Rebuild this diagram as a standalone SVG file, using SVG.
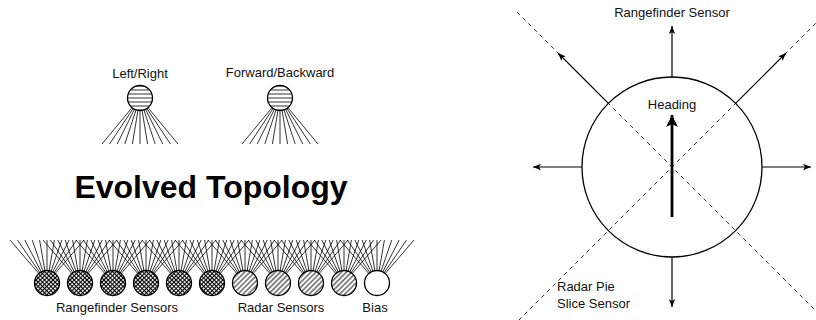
<svg xmlns="http://www.w3.org/2000/svg" width="816" height="320" viewBox="0 0 816 320">
<style>
.lbl{font-family:"Liberation Sans",Arial,sans-serif;font-size:13px;fill:#111}
.title{font-family:"Liberation Sans",Arial,sans-serif;font-size:32px;font-weight:bold;fill:#000}
.node{stroke:#000;stroke-width:1.3}
.fan{fill:none;stroke:#000;stroke-width:0.8}
.arr{stroke:#000;stroke-width:1.2;fill:none}
.dash{stroke:#000;stroke-width:0.8;stroke-dasharray:4 4;fill:none}
</style>
<defs>
<pattern id="hlines" patternUnits="userSpaceOnUse" width="8" height="4">
<rect width="8" height="4" fill="#fff"/>
<line x1="0" y1="2" x2="8" y2="2" stroke="#000" stroke-width="0.8"/>
</pattern>
<pattern id="xhatch" patternUnits="userSpaceOnUse" width="3" height="3" patternTransform="rotate(45)">
<rect width="3" height="3" fill="#fff"/>
<path d="M0,1.5 H3 M1.5,0 V3" stroke="#000" stroke-width="1.15"/>
</pattern>
<pattern id="nelines" patternUnits="userSpaceOnUse" width="3.6" height="3.6" patternTransform="rotate(-45)">
<rect width="3.6" height="3.6" fill="#fff"/>
<line x1="0" y1="1.8" x2="3.6" y2="1.8" stroke="#000" stroke-width="0.9"/>
</pattern>
<marker id="ah" markerUnits="userSpaceOnUse" markerWidth="8" markerHeight="7" viewBox="0 0 10 8" refX="10" refY="4" orient="auto">
<path d="M0,0 L10,4 L0,8 L2.5,4 z" fill="#000"/>
</marker>
<marker id="ahBig" markerUnits="userSpaceOnUse" markerWidth="12" markerHeight="12" viewBox="0 0 10 10" refX="10" refY="5" orient="auto">
<path d="M0,0 L10,5 L0,10 L2.5,5 z" fill="#000"/>
</marker>
<path id="fanDown" class="fan" d="M0,0 l-38,46 M0,0 l-30.4,46 M0,0 l-22.8,46 M0,0 l-15.2,46 M0,0 l-7.6,46 M0,0 l0,46 M0,0 l7.6,46 M0,0 l15.2,46 M0,0 l22.8,46 M0,0 l30.4,46 M0,0 l38,46"/>
<path id="fanUp" class="fan" d="M0,283 l-37,-43 M0,283 l-29.6,-43 M0,283 l-22.2,-43 M0,283 l-14.8,-43 M0,283 l-7.4,-43 M0,283 l0,-43 M0,283 l7.4,-43 M0,283 l14.8,-43 M0,283 l22.2,-43 M0,283 l29.6,-43 M0,283 l37,-43"/>
</defs>
<rect width="816" height="320" fill="#fff"/>

<g id="connectors">
<use href="#fanDown" x="140" y="98"/>
<use href="#fanDown" x="280" y="98"/>
<use href="#fanUp" x="47"/>
<use href="#fanUp" x="80"/>
<use href="#fanUp" x="113"/>
<use href="#fanUp" x="146"/>
<use href="#fanUp" x="179"/>
<use href="#fanUp" x="212"/>
<use href="#fanUp" x="245"/>
<use href="#fanUp" x="278"/>
<use href="#fanUp" x="311"/>
<use href="#fanUp" x="344"/>
<use href="#fanUp" x="377"/>
</g>

<g id="out-left-right">
<circle class="node" cx="140" cy="98" r="12.5" fill="url(#hlines)"/>
<text class="lbl" x="140" y="78" text-anchor="middle">Left/Right</text>
</g>
<g id="out-forward-backward">
<circle class="node" cx="280" cy="98" r="12.5" fill="url(#hlines)"/>
<text class="lbl" x="280" y="77" text-anchor="middle">Forward/Backward</text>
</g>

<text class="title" x="211" y="198" text-anchor="middle">Evolved Topology</text>

<g id="rangefinder-sensors">
<circle class="node" cx="47" cy="283" r="12.5" fill="url(#xhatch)"/>
<circle class="node" cx="80" cy="283" r="12.5" fill="url(#xhatch)"/>
<circle class="node" cx="113" cy="283" r="12.5" fill="url(#xhatch)"/>
<circle class="node" cx="146" cy="283" r="12.5" fill="url(#xhatch)"/>
<circle class="node" cx="179" cy="283" r="12.5" fill="url(#xhatch)"/>
<circle class="node" cx="212" cy="283" r="12.5" fill="url(#xhatch)"/>
<text class="lbl" x="117" y="312" text-anchor="middle">Rangefinder Sensors</text>
</g>
<g id="radar-sensors">
<circle class="node" cx="245" cy="283" r="12.5" fill="url(#nelines)"/>
<circle class="node" cx="278" cy="283" r="12.5" fill="url(#nelines)"/>
<circle class="node" cx="311" cy="283" r="12.5" fill="url(#nelines)"/>
<circle class="node" cx="344" cy="283" r="12.5" fill="url(#nelines)"/>
<text class="lbl" x="281" y="312" text-anchor="middle">Radar Sensors</text>
</g>
<g id="bias">
<circle class="node" cx="377" cy="283" r="12.5" fill="#fff"/>
<text class="lbl" x="375" y="312" text-anchor="middle">Bias</text>
</g>

<g id="robot">
<line class="dash" x1="517" y1="12" x2="827" y2="322"/>
<line class="dash" x1="827" y1="12" x2="517" y2="322"/>
<circle cx="672" cy="167" r="90" fill="none" stroke="#000" stroke-width="1.3"/>
<line class="arr" x1="672" y1="77" x2="672" y2="26" marker-end="url(#ah)"/>
<line class="arr" x1="672" y1="257" x2="672" y2="307" marker-end="url(#ah)"/>
<line class="arr" x1="582" y1="167" x2="533" y2="167" marker-end="url(#ah)"/>
<line class="arr" x1="762" y1="167" x2="811" y2="167" marker-end="url(#ah)"/>
<line class="arr" x1="608.4" y1="103.4" x2="558" y2="53" marker-end="url(#ah)"/>
<line class="arr" x1="735.6" y1="103.4" x2="786" y2="53" marker-end="url(#ah)"/>
<line x1="672" y1="217" x2="672" y2="115" stroke="#000" stroke-width="2.8" marker-end="url(#ahBig)"/>
<text class="lbl" x="672" y="17" text-anchor="middle">Rangefinder Sensor</text>
<text class="lbl" x="672" y="109" text-anchor="middle">Heading</text>
<text class="lbl" x="557" y="291">Radar Pie</text>
<text class="lbl" x="557" y="308">Slice Sensor</text>
</g>
</svg>
